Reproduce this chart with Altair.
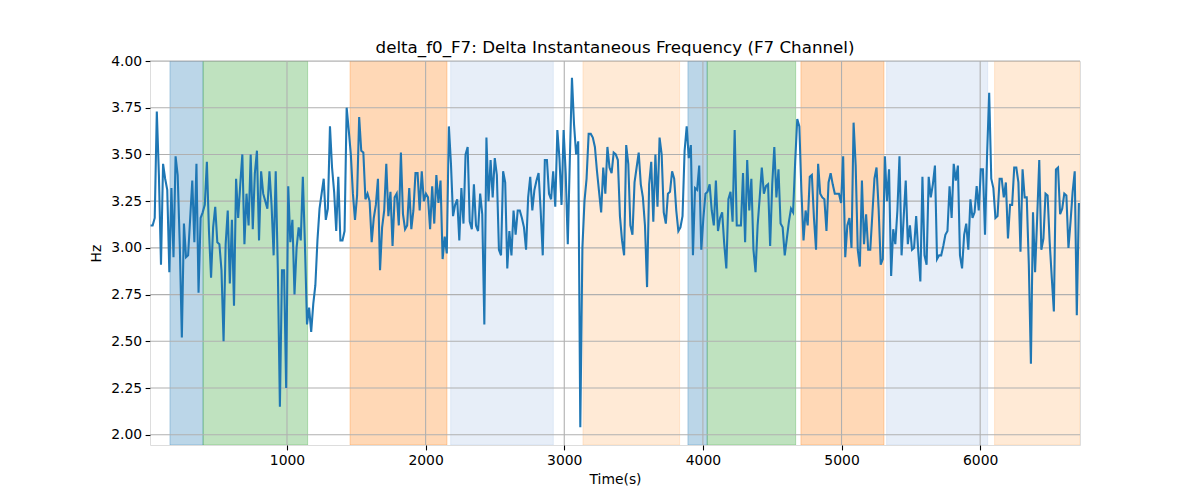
import altair as alt
import numpy as np
import pandas as pd

# --- line values (Hz), read left to right ---
seg1 = [3.12, 3.12, 3.16, 3.73, 3.39, 2.91, 3.45, 3.37, 3.31, 2.87,
        3.32, 2.95, 3.49, 3.39, 3.02, 2.52, 3.13, 2.95, 2.96, 3.16,
        3.36, 3.03, 3.45, 2.76, 3.16, 3.19, 3.23, 3.46, 3.09, 2.84,
        3.11, 3.22, 3.03, 3.02, 2.88, 2.50, 3.02, 3.20, 2.81, 3.15,
        2.69, 3.37, 3.16, 3.34, 3.50, 3.02, 3.29, 3.12, 3.50, 3.10,
        3.40, 3.52, 3.04, 3.41, 3.29, 3.25, 3.21, 3.41, 3.23, 2.96,
        3.41, 2.89, 2.15, 2.88]
seg2 = [2.88, 2.25, 3.33, 3.03, 3.15, 2.75, 3.00, 3.11, 3.04, 3.38,
        3.02, 2.59, 2.68, 2.55, 2.70, 2.80, 3.04, 3.21, 3.29, 3.37,
        3.15, 3.21, 3.65, 3.43, 3.30, 3.09, 3.38, 3.04, 3.04, 3.09,
        3.75, 3.63, 3.50, 3.29, 3.15, 3.28, 3.70, 3.52, 3.51, 3.26,
        3.29, 3.25, 3.03, 3.16, 3.23, 3.37, 2.88, 3.11, 3.20, 3.45,
        3.17, 3.30, 3.01, 3.27, 3.29, 3.12, 3.51, 3.18, 3.10, 3.12,
        3.32, 3.10, 3.20, 3.40]
seg3 = [3.40, 3.20, 3.41, 3.25, 3.29, 3.27, 3.10, 3.33, 3.13, 3.39,
        3.24, 3.36, 2.94, 3.06, 2.97, 3.65, 3.45, 3.17, 3.23, 3.26,
        3.04, 3.32, 3.13, 3.50, 3.54, 3.14, 3.10, 3.34, 3.12, 3.09,
        3.29, 3.18, 2.59, 3.59, 3.25, 3.47, 3.27, 3.48, 3.39, 2.99,
        2.96, 3.41, 3.35, 2.89, 3.09, 2.96, 3.20, 3.07, 3.20, 3.20,
        3.16, 3.11, 2.99, 3.27, 3.38, 3.20, 3.31, 3.36, 3.40, 3.20,
        2.96, 3.47, 3.47, 3.29, 3.26]
seg4 = [3.41, 3.22, 3.63, 3.48, 3.23, 3.63, 3.40, 3.02, 3.48, 3.91,
        3.66, 3.50, 3.57, 2.04, 3.00, 3.25, 3.37, 3.61, 3.61, 3.59,
        3.54, 3.41, 3.30, 3.19, 3.43, 3.29, 3.54, 3.43, 3.40, 3.51,
        3.50, 3.47, 3.17, 3.04, 2.96, 3.55, 3.45, 3.12, 3.07, 3.35,
        3.43, 3.51, 3.34, 3.27, 3.12, 2.79, 3.34, 3.46, 3.14, 3.50,
        3.22, 3.59, 3.50, 3.19, 3.13, 3.29, 3.30, 3.41, 3.37, 3.20,
        3.09, 3.11, 3.17, 3.52]
seg5 = [3.65, 3.48, 3.55, 2.96, 3.32, 3.31, 3.44, 2.99, 3.16, 3.29,
        3.30, 3.34, 3.20, 3.12, 3.36, 3.09, 3.16, 3.19, 3.02, 2.89,
        3.26, 3.30, 3.14, 3.63, 3.12, 3.12, 3.12, 3.40, 3.03, 3.47,
        3.20, 3.37, 2.99, 2.87, 3.12, 3.27, 3.43, 3.29, 3.33, 3.34,
        3.01, 3.34, 3.54, 3.27, 3.42, 3.13, 3.11, 2.96, 3.05, 3.14,
        3.21, 3.19, 3.46, 3.69, 3.65, 3.30, 3.04, 3.20, 3.12, 3.38,
        3.39, 3.16, 2.99, 3.45]
seg6 = [3.29, 3.27, 3.26, 3.09, 3.35, 3.40, 3.34, 3.29, 3.29, 3.29,
        3.24, 3.49, 2.95, 3.12, 3.16, 3.00, 3.67, 3.44, 2.99, 2.90,
        3.36, 3.02, 3.18, 2.99, 2.99, 3.18, 3.37, 3.43, 3.21, 2.91,
        2.94, 3.49, 3.25, 3.42, 2.85, 3.10, 3.02, 3.20, 3.49, 2.96,
        3.16, 3.36, 3.02, 3.12, 2.99, 3.00, 3.17, 2.98, 2.82, 3.38,
        2.96, 2.91, 3.38, 3.27, 3.34, 3.44, 2.94, 2.96, 2.96, 3.01,
        3.07, 3.09, 3.33, 3.16]
seg7 = [3.45, 3.36, 3.44, 2.96, 2.89, 3.07, 3.13, 2.99, 3.26, 3.16,
        3.19, 3.33, 3.20, 3.42, 3.42, 3.07, 3.50, 3.83, 3.37, 3.32,
        3.16, 3.17, 3.37, 3.37, 3.27, 3.35, 3.05, 3.23, 3.23, 3.43,
        3.43, 3.35, 2.98, 3.42, 3.27, 3.27, 2.91, 2.38, 3.19, 2.87,
        3.16, 3.47, 2.99, 3.05, 3.29, 3.28, 3.03, 2.84, 2.66, 3.42,
        3.43, 3.18, 3.21, 3.29, 3.28, 3.00, 3.14, 3.30, 3.41, 2.64,
        3.24]

values = seg1 + seg2 + seg3 + seg4 + seg5 + seg6 + seg7
T_FIRST, T_LAST = 16, 6712          # time of first / last sample (s)
times = np.linspace(T_FIRST, T_LAST, len(values))
line_df = pd.DataFrame({"t": times, "v": values})

# --- shaded intervals (s) ---
span_start = [156, 395, 1455, 2181, 3135, 3892, 4031, 4707, 5325, 6104]
span_end = [395, 1149, 2154, 2921, 3832, 4031, 4669, 5306, 6054, 6720]
span_color = ["#1f77b4", "#2ca02c", "#ff7f0e", "#aec7e8", "#ffbb78",
              "#1f77b4", "#2ca02c", "#ff7f0e", "#aec7e8", "#ffbb78"]
span_df = pd.DataFrame({"start": span_start, "end": span_end, "color": span_color})

x_ticks = [1000, 2000, 3000, 4000, 5000, 6000]
y_ticks = [2.0, 2.25, 2.5, 2.75, 3.0, 3.25, 3.5, 3.75, 4.0]
X_DOMAIN = [12, 6720]
Y_DOMAIN = [1.945, 4.0]

FONT = "DejaVu Sans"
xscale = alt.Scale(domain=X_DOMAIN, nice=False, zero=False)
yscale = alt.Scale(domain=Y_DOMAIN, nice=False, zero=False)

common_axis = dict(grid=False, domain=False, tickColor="black", tickWidth=1.1,
                   tickSize=4.9, labelFontSize=13.9, labelFont=FONT,
                   labelColor="black", labelPadding=3.5, titleFontSize=13.9,
                   titleFont=FONT, titleColor="black", titleFontWeight="normal")
xaxis = alt.Axis(values=x_ticks, title="Time(s)", format="d", titlePadding=5,
                 labelFlush=False, **common_axis)
yaxis = alt.Axis(values=y_ticks, title="Hz", format=".2f", titlePadding=7,
                 **common_axis)

spans = alt.Chart(span_df).mark_rect(fillOpacity=0.3, strokeOpacity=0.3,
                                     strokeWidth=1.0, clip=True).encode(
    x=alt.X("start:Q", scale=xscale, axis=xaxis),
    x2="end:Q",
    color=alt.Color("color:N", scale=None),
    stroke=alt.Stroke("color:N", scale=None),
)

xgrid = alt.Chart(pd.DataFrame({"t": x_ticks})).mark_rule(
    color="#b0b0b0", strokeWidth=1.1).encode(
    x=alt.X("t:Q", scale=xscale, axis=xaxis))

ygrid = alt.Chart(pd.DataFrame({"v": y_ticks})).mark_rule(
    color="#b0b0b0", strokeWidth=1.1).encode(
    y=alt.Y("v:Q", scale=yscale, axis=yaxis))

line = alt.Chart(line_df).mark_line(color="#1f77b4", strokeWidth=2.08,
                                    clip=True).encode(
    x=alt.X("t:Q", scale=xscale, axis=xaxis),
    y=alt.Y("v:Q", scale=yscale, axis=yaxis),
)

chart = alt.layer(spans, xgrid, ygrid, line).properties(
    width=930, height=384,
    autosize=alt.AutoSizeParams(type="none"),
    padding={"left": 142, "top": 53, "right": 112, "bottom": 47},
    title=alt.TitleParams("delta_f0_F7: Delta Instantaneous Frequency (F7 Channel)",
                          fontSize=16.7, font=FONT, fontWeight="normal",
                          color="black", offset=8, anchor="middle",
                          baseline="alphabetic", dy=24),
).configure_view(stroke="black", strokeWidth=1.1).configure(background="white")

chart.save("out.html", embed_options={"renderer": "svg", "actions": False})
